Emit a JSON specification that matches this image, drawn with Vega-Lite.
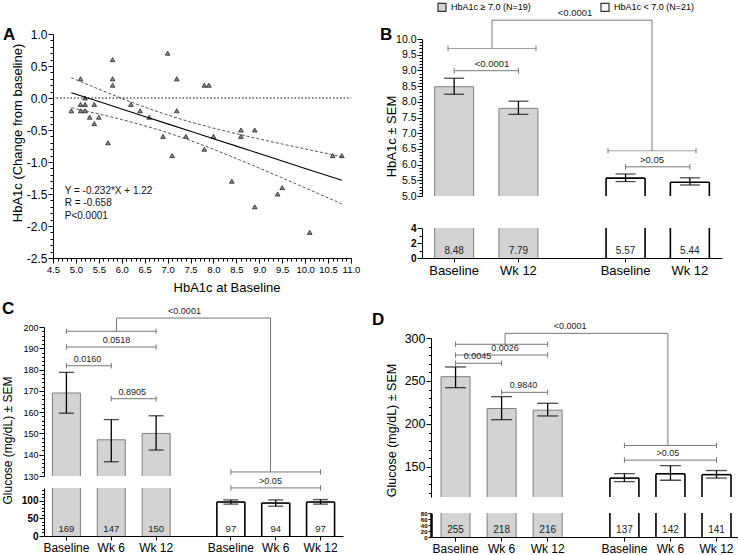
{
"$schema": "https://vega.github.io/schema/vega-lite/v6.json",
"padding": 0,
"columns": 4,
"align": "each",
"bounds": "flush",
"spacing": 0,
"datasets": {
 "a_pts": [{"x":4.9,"y":-0.2},{"x":5.1,"y":0.3},{"x":5.1,"y":-0.1},{"x":5.1,"y":-0.2},{"x":5.2,"y":0.0},{"x":5.2,"y":-0.1},{"x":5.2,"y":-0.2},{"x":5.3,"y":-0.3},{"x":5.4,"y":-0.1},{"x":5.4,"y":-0.4},{"x":5.5,"y":-0.3},{"x":5.7,"y":-0.7},{"x":5.8,"y":0.6},{"x":5.8,"y":0.3},{"x":5.8,"y":0.2},{"x":6.2,"y":-0.1},{"x":6.4,"y":-0.2},{"x":6.6,"y":-0.3},{"x":6.9,"y":-0.6},{"x":7.0,"y":0.7},{"x":7.1,"y":-0.9},{"x":7.2,"y":0.3},{"x":7.2,"y":-0.2},{"x":7.4,"y":-0.6},{"x":7.8,"y":0.2},{"x":7.9,"y":0.2},{"x":7.8,"y":-0.8},{"x":8.0,"y":-0.6},{"x":8.4,"y":-1.3},{"x":8.6,"y":-0.5},{"x":8.6,"y":-0.6},{"x":8.9,"y":-0.5},{"x":8.9,"y":-1.7},{"x":9.4,"y":-1.5},{"x":9.5,"y":-1.4},{"x":10.1,"y":-2.1},{"x":10.6,"y":-0.9},{"x":10.8,"y":-0.9}],
 "a_fit": [{"x":4.9,"fit":0.083,"lo":-0.152,"hi":0.318},{"x":5.5,"fit":-0.056,"lo":-0.25,"hi":0.138},{"x":6.0,"fit":-0.172,"lo":-0.337,"hi":-0.007},{"x":6.5,"fit":-0.288,"lo":-0.434,"hi":-0.142},{"x":7.0,"fit":-0.404,"lo":-0.543,"hi":-0.265},{"x":7.5,"fit":-0.52,"lo":-0.666,"hi":-0.374},{"x":8.0,"fit":-0.636,"lo":-0.801,"hi":-0.471},{"x":8.5,"fit":-0.752,"lo":-0.946,"hi":-0.558},{"x":9.0,"fit":-0.868,"lo":-1.096,"hi":-0.64},{"x":9.5,"fit":-0.984,"lo":-1.249,"hi":-0.719},{"x":10.0,"fit":-1.1,"lo":-1.404,"hi":-0.796},{"x":10.8,"fit":-1.286,"lo":-1.656,"hi":-0.916}],
 "b_bars": [
  {"bar":"hi|Baseline","group":"HbA1c ≥ 7.0  (N=19)","mean":8.48,"err_lo":8.24,"err_hi":8.75},
  {"bar":"hi|Wk 12","group":"HbA1c ≥ 7.0  (N=19)","mean":7.79,"err_lo":7.6,"err_hi":8.02},
  {"bar":"lo|Baseline","group":"HbA1c < 7.0  (N=21)","mean":5.57,"err_lo":5.46,"err_hi":5.7},
  {"bar":"lo|Wk 12","group":"HbA1c < 7.0  (N=21)","mean":5.44,"err_lo":5.35,"err_hi":5.58}],
 "b_pairs": [
  {"from":"hi|Baseline","to":"hi|Wk 12","grp":"hi","y":8.99,"label":"<0.0001"},
  {"from":"lo|Baseline","to":"lo|Wk 12","grp":"lo","y":5.93,"label":">0.05"}],
 "b_groups": [{"grp":"hi","y":9.7,"top":10.6},{"grp":"lo","y":6.44,"top":10.6}],
 "b_conn": [{"from":"hi","to":"lo","y":10.6,"label":"<0.0001"}],
 "c_bars": [
  {"bar":"hi|Baseline","group":"HbA1c ≥ 7.0  (N=19)","mean":169,"err_lo":159.5,"err_hi":178.7},
  {"bar":"hi|Wk 6","group":"HbA1c ≥ 7.0  (N=19)","mean":147,"err_lo":136.7,"err_hi":156.5},
  {"bar":"hi|Wk 12","group":"HbA1c ≥ 7.0  (N=19)","mean":150,"err_lo":142.2,"err_hi":158.3},
  {"bar":"lo|Baseline","group":"HbA1c < 7.0  (N=21)","mean":97,"err_lo":91,"err_hi":103},
  {"bar":"lo|Wk 6","group":"HbA1c < 7.0  (N=21)","mean":94,"err_lo":85,"err_hi":103},
  {"bar":"lo|Wk 12","group":"HbA1c < 7.0  (N=21)","mean":97,"err_lo":91,"err_hi":104}],
 "c_pairs": [
  {"from":"hi|Baseline","to":"hi|Wk 12","grp":"hi","y":198,"label":""},
  {"from":"hi|Baseline","to":"hi|Wk 12","grp":"hi","y":190.6,"label":"0.0518"},
  {"from":"hi|Baseline","to":"hi|Wk 6","grp":"hi","y":181.8,"label":"0.0160"},
  {"from":"hi|Wk 6","to":"hi|Wk 12","grp":"hi","y":166.3,"label":"0.8905"},
  {"from":"lo|Baseline","to":"lo|Wk 12","grp":"lo","y":131.9,"label":""},
  {"from":"lo|Baseline","to":"lo|Wk 12","grp":"lo","y":124.4,"label":">0.05"}],
 "c_groups": [{"grp":"hi","y":198,"top":204.2},{"grp":"lo","y":131.9,"top":204.2}],
 "c_conn": [{"from":"hi","to":"lo","y":204.2,"label":"<0.0001"}],
 "d_bars": [
  {"bar":"hi|Baseline","group":"HbA1c ≥ 7.0  (N=19)","mean":255,"err_lo":242.2,"err_hi":266.3},
  {"bar":"hi|Wk 6","group":"HbA1c ≥ 7.0  (N=19)","mean":218,"err_lo":205,"err_hi":231.8},
  {"bar":"hi|Wk 12","group":"HbA1c ≥ 7.0  (N=19)","mean":216,"err_lo":209.3,"err_hi":224},
  {"bar":"lo|Baseline","group":"HbA1c < 7.0  (N=21)","mean":137,"err_lo":132.9,"err_hi":142.2},
  {"bar":"lo|Wk 6","group":"HbA1c < 7.0  (N=21)","mean":142,"err_lo":134.5,"err_hi":151.5},
  {"bar":"lo|Wk 12","group":"HbA1c < 7.0  (N=21)","mean":141,"err_lo":137,"err_hi":145.8}],
 "d_pairs": [
  {"from":"hi|Baseline","to":"hi|Wk 12","grp":"hi","y":292.7,"label":""},
  {"from":"hi|Baseline","to":"hi|Wk 12","grp":"hi","y":280.2,"label":"0.0026"},
  {"from":"hi|Baseline","to":"hi|Wk 6","grp":"hi","y":270.6,"label":"0.0045"},
  {"from":"hi|Wk 6","to":"hi|Wk 12","grp":"hi","y":236.8,"label":"0.9840"},
  {"from":"lo|Baseline","to":"lo|Wk 12","grp":"lo","y":175,"label":""},
  {"from":"lo|Baseline","to":"lo|Wk 12","grp":"lo","y":157.9,"label":">0.05"}],
 "d_groups": [{"grp":"hi","y":292.7,"top":305.4},{"grp":"lo","y":175,"top":305.4}],
 "d_conn": [{"from":"hi","to":"lo","y":305.4,"label":"<0.0001"}]
},
"concat": [
 {"width": 44, "height": 34, "data": {"values": []}, "mark": "point",
  "title": {"text": "A", "orient": "bottom", "anchor": "start", "frame": "group", "offset": 6, "dx": 3, "baseline": "alphabetic", "align": "left", "fontSize": 17, "fontWeight": "bold", "color": "#000"}},
 {"width": 1, "height": 1, "data": {"values": []}, "mark": "point"},
 {"width": 71, "height": 1, "data": {"values": []}, "mark": "point",
  "title": {"text": "B", "orient": "bottom", "anchor": "start", "frame": "group", "offset": 39, "dx": 29, "baseline": "alphabetic", "align": "left", "fontSize": 17, "fontWeight": "bold", "color": "#000"}},
 {"width": 1, "height": 1, "data": {"values": []}, "mark": "point"},

 {"width": 1, "height": 1, "data": {"values": []}, "mark": "point"},
 {"width": 307, "height": 224,
  "resolve": {"axis": {"x": "independent", "y": "independent"}},
  "layer": [
   {"data": {"name": "a_pts"}, "mark": {"type": "point", "shape": "triangle-up", "size": 22, "filled": true, "fill": "#8a8a8a", "stroke": "#111", "strokeWidth": 0.7, "opacity": 1},
    "encoding": {
     "x": {"field": "x", "type": "quantitative", "scale": {"domain": [4.5, 11], "range": [9, 307], "nice": false, "zero": false},
      "axis": {"values": [4.5,4.6,4.7,4.8,4.9,5,5.1,5.2,5.3,5.4,5.5,5.6,5.7,5.8,5.9,6,6.1,6.2,6.3,6.4,6.5,6.6,6.7,6.8,6.9,7,7.1,7.2,7.3,7.4,7.5,7.6,7.7,7.8,7.9,8,8.1,8.2,8.3,8.4,8.5,8.6,8.7,8.8,8.9,9,9.1,9.2,9.3,9.4,9.5,9.6,9.7,9.8,9.9,10,10.1,10.2,10.3,10.4,10.5,10.6,10.7,10.8,10.9,11],
       "labelExpr": "abs(datum.value*2-round(datum.value*2))<0.01 ? format(datum.value,'.1f') : ''",
       "tickSize": {"condition": {"test": "abs(datum.value*2-round(datum.value*2))<0.01", "value": 5}, "value": 3},
       "labelFontSize": 9.5, "labelOverlap": false, "labelFlush": false, "labelPadding": 1,
       "title": "HbA1c at Baseline", "titleFontSize": 13, "titleX": 182.5, "titleY": 29, "titleAlign": "center", "titleBaseline": "middle"}},
     "y": {"field": "y", "type": "quantitative", "scale": {"domain": [-2.5, 1], "nice": false, "zero": false},
      "axis": {"orient": "left", "values": [-2.5,-2.4,-2.3,-2.2,-2.1,-2,-1.9,-1.8,-1.7,-1.6,-1.5,-1.4,-1.3,-1.2,-1.1,-1,-0.9,-0.8,-0.7,-0.6,-0.5,-0.4,-0.3,-0.2,-0.1,0,0.1,0.2,0.3,0.4,0.5,0.6,0.7,0.8,0.9,1], "offset": -9,
       "labelExpr": "abs(datum.value*2-round(datum.value*2))<0.01 ? replace(format(datum.value,'.1f'),'\u2212','-') : ''",
       "tickSize": {"condition": {"test": "abs(datum.value*2-round(datum.value*2))<0.01", "value": 5}, "value": 3},
       "labelFontSize": 12, "labelOverlap": false, "labelFlush": false, "labelPadding": 1,
       "title": "HbA1c (Change from baseline)", "titleFontSize": 13, "titleX": -35.5, "titleY": 98.5, "titleAlign": "center", "titleBaseline": "middle", "titleAngle": -90}}
    }},
   {"data": {"name": "a_fit"}, "mark": {"type": "line", "color": "#555", "strokeWidth": 1, "strokeDash": [3, 2], "interpolate": "monotone"},
    "encoding": {"x": {"field": "x", "type": "quantitative", "axis": null}, "y": {"field": "hi", "type": "quantitative", "axis": null}}},
   {"data": {"name": "a_fit"}, "mark": {"type": "line", "color": "#555", "strokeWidth": 1, "strokeDash": [3, 2], "interpolate": "monotone"},
    "encoding": {"x": {"field": "x", "type": "quantitative", "axis": null}, "y": {"field": "lo", "type": "quantitative", "axis": null}}},
   {"data": {"name": "a_fit"}, "mark": {"type": "line", "color": "#000", "strokeWidth": 1.1},
    "encoding": {"x": {"field": "x", "type": "quantitative", "axis": null}, "y": {"field": "fit", "type": "quantitative", "axis": null}}},
   {"data": {"values": [{}]}, "mark": {"type": "rule", "color": "#000", "strokeWidth": 1, "strokeDash": [1.5, 2]},
    "encoding": {"x": {"datum": 4.5, "axis": null}, "x2": {"datum": 11}, "y": {"datum": 0, "axis": null}}},
   {"data": {"values": [{}]}, "mark": {"type": "text", "align": "left", "baseline": "top", "fontSize": 10, "lineHeight": 12.5, "color": "#111"},
    "encoding": {"x": {"datum": 4.756, "axis": null}, "y": {"datum": -1.37, "axis": null}, "text": {"value": ["Y = -0.232*X + 1.22", "R =  -0.658", " P<0.0001"]}}}
  ]},
 {"width": 1, "height": 1, "data": {"values": []}, "mark": "point"},
 {"width": 300, "height": 224,
  "resolve": {"scale": {"x": "independent", "y": "independent"}},
  "layer": [
   {"data": {"name": "b_bars"}, "mark": {"type": "bar", "width": 39},
    "encoding": {
     "x": {"field": "bar", "type": "nominal", "scale": {"type": "band", "domain": ["hi|Baseline","s1","s2","hi|Wk 12","s3","s4","s5","s6","lo|Baseline","s7","s8","lo|Wk 12"], "paddingInner": 0, "paddingOuter": 1.5}, "axis": null},
     "y": {"field": "mean", "type": "quantitative", "scale": {"domain": [5, 10], "range": [162, 5], "nice": false, "zero": false},
      "axis": {"orient": "left", "values": [5,5.1,5.2,5.3,5.4,5.5,5.6,5.7,5.8,5.9,6,6.1,6.2,6.3,6.4,6.5,6.6,6.7,6.8,6.9,7,7.1,7.2,7.3,7.4,7.5,7.6,7.7,7.8,7.9,8,8.1,8.2,8.3,8.4,8.5,8.6,8.7,8.8,8.9,9,9.1,9.2,9.3,9.4,9.5,9.6,9.7,9.8,9.9,10],
       "labelExpr": "abs(datum.value*2-round(datum.value*2))<0.01 ? format(datum.value,'.1f') : ''",
       "tickSize": {"condition": {"test": "abs(datum.value*2-round(datum.value*2))<0.01", "value": 5}, "value": 3},
       "labelFontSize": 10.5, "labelOverlap": false, "labelFlush": false, "labelPadding": 1,
       "title": "HbA1c ± SEM", "titleFontSize": 13, "titleX": -30.5, "titleY": 102, "titleAlign": "center", "titleBaseline": "middle", "titleAngle": -90}},
     "y2": {"datum": 5},
     "fill": {"field": "group", "type": "nominal", "scale": {"domain": ["HbA1c ≥ 7.0  (N=19)", "HbA1c < 7.0  (N=21)"], "range": ["#d3d3d3", "#ffffff"]},
      "legend": {"orient": "none", "legendX": 437, "legendY": 2, "direction": "horizontal", "title": null, "symbolType": "square", "symbolSize": 64, "symbolStrokeColor": "#333", "symbolStrokeWidth": 1.2, "labelFontSize": 9, "labelOffset": 4, "columnPadding": 64, "labelColor": "#000"}}
    }},
   {"data": {"name": "b_bars"}, "mark": {"type": "rule", "xOffset": -19.5},
    "encoding": {"x": {"field": "bar", "type": "nominal", "scale": {"type": "band", "domain": ["hi|Baseline","s1","s2","hi|Wk 12","s3","s4","s5","s6","lo|Baseline","s7","s8","lo|Wk 12"], "paddingInner": 0, "paddingOuter": 1.5}, "axis": null},
     "y": {"field": "mean", "type": "quantitative", "scale": {"domain": [5, 10], "range": [162, 5], "nice": false, "zero": false}, "axis": null},
     "y2": {"datum": 5},
     "color": {"condition": {"test": "indexof(datum.bar,'lo|') == 0", "value": "#000"}, "value": "#7f7f7f"},
     "strokeWidth": {"condition": {"test": "indexof(datum.bar,'lo|') == 0", "value": 1.6}, "value": 1}}},
   {"data": {"name": "b_bars"}, "mark": {"type": "rule", "xOffset": 19.5},
    "encoding": {"x": {"field": "bar", "type": "nominal", "scale": {"type": "band", "domain": ["hi|Baseline","s1","s2","hi|Wk 12","s3","s4","s5","s6","lo|Baseline","s7","s8","lo|Wk 12"], "paddingInner": 0, "paddingOuter": 1.5}, "axis": null},
     "y": {"field": "mean", "type": "quantitative", "scale": {"domain": [5, 10], "range": [162, 5], "nice": false, "zero": false}, "axis": null},
     "y2": {"datum": 5},
     "color": {"condition": {"test": "indexof(datum.bar,'lo|') == 0", "value": "#000"}, "value": "#7f7f7f"},
     "strokeWidth": {"condition": {"test": "indexof(datum.bar,'lo|') == 0", "value": 1.6}, "value": 1}}},
   {"data": {"name": "b_bars"}, "mark": {"type": "rule", "xOffset": -19.5, "x2Offset": 19.5},
    "encoding": {"x": {"field": "bar", "type": "nominal", "scale": {"type": "band", "domain": ["hi|Baseline","s1","s2","hi|Wk 12","s3","s4","s5","s6","lo|Baseline","s7","s8","lo|Wk 12"], "paddingInner": 0, "paddingOuter": 1.5}, "axis": null},
     "x2": {"field": "bar"},
     "y": {"field": "mean", "type": "quantitative", "scale": {"domain": [5, 10], "range": [162, 5], "nice": false, "zero": false}, "axis": null},
     "color": {"condition": {"test": "indexof(datum.bar,'lo|') == 0", "value": "#000"}, "value": "#7f7f7f"},
     "strokeWidth": {"condition": {"test": "indexof(datum.bar,'lo|') == 0", "value": 1.6}, "value": 1}}},
   {"data": {"name": "b_bars"}, "mark": {"type": "rule", "color": "#000", "strokeWidth": 1.3},
    "encoding": {"x": {"field": "bar", "type": "nominal", "scale": {"type": "band", "domain": ["hi|Baseline","s1","s2","hi|Wk 12","s3","s4","s5","s6","lo|Baseline","s7","s8","lo|Wk 12"], "paddingInner": 0, "paddingOuter": 1.5}, "axis": null},
     "y": {"field": "err_lo", "type": "quantitative", "scale": {"domain": [5, 10], "range": [162, 5], "nice": false, "zero": false}, "axis": null}, "y2": {"field": "err_hi"}}},
   {"data": {"name": "b_bars"}, "mark": {"type": "tick", "color": "#000", "size": 20, "thickness": 1.3},
    "encoding": {"x": {"field": "bar", "type": "nominal", "scale": {"type": "band", "domain": ["hi|Baseline","s1","s2","hi|Wk 12","s3","s4","s5","s6","lo|Baseline","s7","s8","lo|Wk 12"], "paddingInner": 0, "paddingOuter": 1.5}, "axis": null},
     "y": {"field": "err_lo", "type": "quantitative", "scale": {"domain": [5, 10], "range": [162, 5], "nice": false, "zero": false}, "axis": null}}},
   {"data": {"name": "b_bars"}, "mark": {"type": "tick", "color": "#000", "size": 20, "thickness": 1.3},
    "encoding": {"x": {"field": "bar", "type": "nominal", "scale": {"type": "band", "domain": ["hi|Baseline","s1","s2","hi|Wk 12","s3","s4","s5","s6","lo|Baseline","s7","s8","lo|Wk 12"], "paddingInner": 0, "paddingOuter": 1.5}, "axis": null},
     "y": {"field": "err_hi", "type": "quantitative", "scale": {"domain": [5, 10], "range": [162, 5], "nice": false, "zero": false}, "axis": null}}},
   {"data": {"name": "b_bars"}, "mark": {"type": "bar", "width": 39},
    "encoding": {
     "x": {"field": "bar", "type": "nominal", "scale": {"type": "band", "domain": ["hi|Baseline","s1","s2","hi|Wk 12","s3","s4","s5","s6","lo|Baseline","s7","s8","lo|Wk 12"], "paddingInner": 0, "paddingOuter": 1.5},
      "axis": {"values": ["hi|Baseline","hi|Wk 12","lo|Baseline","lo|Wk 12"], "labelExpr": "split(datum.label,'|')[1]", "labelAngle": 0, "labelFontSize": 13, "labelPadding": 2, "tickSize": 4, "title": null, "labelOverlap": false, "labelBound": false}},
     "y": {"field": "mean", "type": "quantitative", "scale": {"domain": [0, 4], "range": [224, 194], "nice": false, "zero": false, "clamp": true},
      "axis": {"orient": "left", "values": [0,1,2,3,4], "labelExpr": "datum.value % 2 == 0 ? datum.label : ''",
       "tickSize": {"condition": {"test": "datum.value % 2 == 0", "value": 5}, "value": 3},
       "labelFontSize": 10, "labelFontWeight": "bold", "labelOverlap": false, "labelFlush": false, "labelPadding": 1, "title": null}},
     "y2": {"datum": 0},
     "fill": {"field": "group", "type": "nominal", "scale": {"domain": ["HbA1c ≥ 7.0  (N=19)", "HbA1c < 7.0  (N=21)"], "range": ["#d3d3d3", "#ffffff"]}, "legend": null}
    }},
   {"data": {"name": "b_bars"}, "mark": {"type": "rule", "xOffset": -19.5},
    "encoding": {"x": {"field": "bar", "type": "nominal", "scale": {"type": "band", "domain": ["hi|Baseline","s1","s2","hi|Wk 12","s3","s4","s5","s6","lo|Baseline","s7","s8","lo|Wk 12"], "paddingInner": 0, "paddingOuter": 1.5}, "axis": null},
     "y": {"field": "mean", "type": "quantitative", "scale": {"domain": [0, 4], "range": [224, 194], "nice": false, "zero": false, "clamp": true}, "axis": null},
     "y2": {"datum": 0},
     "color": {"condition": {"test": "indexof(datum.bar,'lo|') == 0", "value": "#000"}, "value": "#7f7f7f"},
     "strokeWidth": {"condition": {"test": "indexof(datum.bar,'lo|') == 0", "value": 1.6}, "value": 1}}},
   {"data": {"name": "b_bars"}, "mark": {"type": "rule", "xOffset": 19.5},
    "encoding": {"x": {"field": "bar", "type": "nominal", "scale": {"type": "band", "domain": ["hi|Baseline","s1","s2","hi|Wk 12","s3","s4","s5","s6","lo|Baseline","s7","s8","lo|Wk 12"], "paddingInner": 0, "paddingOuter": 1.5}, "axis": null},
     "y": {"field": "mean", "type": "quantitative", "scale": {"domain": [0, 4], "range": [224, 194], "nice": false, "zero": false, "clamp": true}, "axis": null},
     "y2": {"datum": 0},
     "color": {"condition": {"test": "indexof(datum.bar,'lo|') == 0", "value": "#000"}, "value": "#7f7f7f"},
     "strokeWidth": {"condition": {"test": "indexof(datum.bar,'lo|') == 0", "value": 1.6}, "value": 1}}},
   {"data": {"name": "b_bars"}, "mark": {"type": "text", "align": "center", "dy": -2, "baseline": "bottom", "fontSize": 10, "color": "#222"},
    "encoding": {"x": {"field": "bar", "type": "nominal", "bandPosition": 0.5, "scale": {"type": "band", "domain": ["hi|Baseline","s1","s2","hi|Wk 12","s3","s4","s5","s6","lo|Baseline","s7","s8","lo|Wk 12"], "paddingInner": 0, "paddingOuter": 1.5}, "axis": null},
     "y": {"datum": 0, "type": "quantitative", "scale": {"domain": [0, 4], "range": [224, 194], "nice": false, "zero": false, "clamp": true}, "axis": null},
     "text": {"field": "mean", "format": ".2f"}}},
   {"data": {"name": "b_pairs"}, "mark": {"type": "rule", "color": "#777", "strokeWidth": 1},
    "encoding": {"x": {"field": "from", "type": "nominal", "scale": {"type": "band", "domain": ["hi|Baseline","s1","s2","hi|Wk 12","s3","s4","s5","s6","lo|Baseline","s7","s8","lo|Wk 12"], "paddingInner": 0, "paddingOuter": 1.5}, "axis": null},
     "x2": {"field": "to"}, "y": {"field": "y", "type": "quantitative", "scale": {"domain": [5, 10], "range": [162, 5], "nice": false, "zero": false}, "axis": null}}},
   {"data": {"name": "b_pairs"}, "mark": {"type": "point", "shape": "M0,-1L0,1", "size": 30, "filled": false, "color": "#777", "strokeWidth": 1, "opacity": 1},
    "encoding": {"x": {"field": "from", "type": "nominal", "bandPosition": 0.5, "scale": {"type": "band", "domain": ["hi|Baseline","s1","s2","hi|Wk 12","s3","s4","s5","s6","lo|Baseline","s7","s8","lo|Wk 12"], "paddingInner": 0, "paddingOuter": 1.5}, "axis": null},
     "y": {"field": "y", "type": "quantitative", "scale": {"domain": [5, 10], "range": [162, 5], "nice": false, "zero": false}, "axis": null}}},
   {"data": {"name": "b_pairs"}, "mark": {"type": "point", "shape": "M0,-1L0,1", "size": 30, "filled": false, "color": "#777", "strokeWidth": 1, "opacity": 1},
    "encoding": {"x": {"field": "to", "type": "nominal", "bandPosition": 0.5, "scale": {"type": "band", "domain": ["hi|Baseline","s1","s2","hi|Wk 12","s3","s4","s5","s6","lo|Baseline","s7","s8","lo|Wk 12"], "paddingInner": 0, "paddingOuter": 1.5}, "axis": null},
     "y": {"field": "y", "type": "quantitative", "scale": {"domain": [5, 10], "range": [162, 5], "nice": false, "zero": false}, "axis": null}}},
   {"data": {"name": "b_pairs"}, "mark": {"type": "text", "align": "center", "dy": -2, "baseline": "bottom", "fontSize": 9.5, "color": "#222"},
    "encoding": {"x": {"field": "grp", "type": "nominal", "bandPosition": 0.5, "scale": {"type": "band", "domain": ["hi","lo"], "paddingInner": 0.45, "paddingOuter": 0.1625}, "axis": null},
     "y": {"field": "y", "type": "quantitative", "scale": {"domain": [5, 10], "range": [162, 5], "nice": false, "zero": false}, "axis": null}, "text": {"field": "label"}}},
   {"data": {"name": "b_groups"}, "mark": {"type": "tick", "color": "#777", "size": 88, "thickness": 1},
    "encoding": {"x": {"field": "grp", "type": "nominal", "scale": {"type": "band", "domain": ["hi","lo"], "paddingInner": 0.45, "paddingOuter": 0.1625}, "axis": null},
     "y": {"field": "y", "type": "quantitative", "scale": {"domain": [5, 10], "range": [162, 5], "nice": false, "zero": false}, "axis": null}}},
   {"data": {"name": "b_groups"}, "mark": {"type": "point", "shape": "M0,-1L0,1", "size": 30, "filled": false, "color": "#777", "strokeWidth": 1, "opacity": 1},
    "encoding": {"x": {"field": "grp", "type": "nominal", "bandPosition": 0, "scale": {"type": "band", "domain": ["hi","lo"], "paddingInner": 0.45, "paddingOuter": 0.1625}, "axis": null},
     "y": {"field": "y", "type": "quantitative", "scale": {"domain": [5, 10], "range": [162, 5], "nice": false, "zero": false}, "axis": null}}},
   {"data": {"name": "b_groups"}, "mark": {"type": "point", "shape": "M0,-1L0,1", "size": 30, "filled": false, "color": "#777", "strokeWidth": 1, "opacity": 1},
    "encoding": {"x": {"field": "grp", "type": "nominal", "bandPosition": 1, "scale": {"type": "band", "domain": ["hi","lo"], "paddingInner": 0.45, "paddingOuter": 0.1625}, "axis": null},
     "y": {"field": "y", "type": "quantitative", "scale": {"domain": [5, 10], "range": [162, 5], "nice": false, "zero": false}, "axis": null}}},
   {"data": {"name": "b_groups"}, "mark": {"type": "rule", "color": "#777", "strokeWidth": 1},
    "encoding": {"x": {"field": "grp", "type": "nominal", "scale": {"type": "band", "domain": ["hi","lo"], "paddingInner": 0.45, "paddingOuter": 0.1625}, "axis": null},
     "y": {"field": "y", "type": "quantitative", "scale": {"domain": [5, 10], "range": [162, 5], "nice": false, "zero": false}, "axis": null}, "y2": {"field": "top"}}},
   {"data": {"name": "b_conn"}, "mark": {"type": "rule", "color": "#777", "strokeWidth": 1},
    "encoding": {"x": {"field": "from", "type": "nominal", "scale": {"type": "band", "domain": ["hi","lo"], "paddingInner": 0.45, "paddingOuter": 0.1625}, "axis": null},
     "x2": {"field": "to"}, "y": {"field": "y", "type": "quantitative", "scale": {"domain": [5, 10], "range": [162, 5], "nice": false, "zero": false}, "axis": null}}},
   {"data": {"name": "b_conn"}, "mark": {"type": "text", "align": "center", "dx": 83, "dy": -2, "baseline": "bottom", "fontSize": 9.5, "color": "#222"},
    "encoding": {"x": {"field": "from", "type": "nominal", "bandPosition": 0.5, "scale": {"type": "band", "domain": ["hi","lo"], "paddingInner": 0.45, "paddingOuter": 0.1625}, "axis": null},
     "y": {"field": "y", "type": "quantitative", "scale": {"domain": [5, 10], "range": [162, 5], "nice": false, "zero": false}, "axis": null}, "text": {"field": "label"}}}
  ]},

 {"width": 1, "height": 69, "data": {"values": []}, "mark": "point",
  "title": {"text": "C", "orient": "bottom", "anchor": "start", "frame": "group", "offset": -13, "dx": 2, "baseline": "alphabetic", "align": "left", "fontSize": 17, "fontWeight": "bold", "color": "#000"}},
 {"width": 1, "height": 1, "data": {"values": []}, "mark": "point"},
 {"width": 1, "height": 1, "data": {"values": []}, "mark": "point",
  "title": {"text": "D", "orient": "bottom", "anchor": "start", "frame": "group", "offset": 66, "dx": 21, "baseline": "alphabetic", "align": "left", "fontSize": 17, "fontWeight": "bold", "color": "#000"}},
 {"width": 1, "height": 1, "data": {"values": []}, "mark": "point"},

 {"width": 1, "height": 1, "data": {"values": []}, "mark": "point"},
 {"width": 299, "height": 209,
  "resolve": {"scale": {"x": "independent", "y": "independent"}},
  "layer": [
   {"data": {"name": "c_bars"}, "transform": [{"filter": "datum.mean > 130"}], "mark": {"type": "bar", "width": 28},
    "encoding": {
     "x": {"field": "bar", "type": "nominal", "scale": {"type": "band", "domain": ["hi|Baseline","s1","s2","hi|Wk 6","s3","s4","hi|Wk 12","s5","s6","s7","s8","lo|Baseline","s9","s10","lo|Wk 6","s11","s12","lo|Wk 12"], "paddingInner": 0, "paddingOuter": 1.68}, "axis": null},
     "y": {"field": "mean", "type": "quantitative", "scale": {"domain": [130, 200], "range": [149, 0], "nice": false, "zero": false},
      "axis": {"orient": "left", "values": [130,132,134,136,138,140,142,144,146,148,150,152,154,156,158,160,162,164,166,168,170,172,174,176,178,180,182,184,186,188,190,192,194,196,198,200],
       "labelExpr": "datum.value % 10 == 0 ? datum.label : ''",
       "tickSize": {"condition": {"test": "datum.value % 10 == 0", "value": 5}, "value": 2.5},
       "labelFontSize": 9, "labelOverlap": false, "labelFlush": false, "labelPadding": 1,
       "title": "Glucose (mg/dL) ± SEM", "titleFontSize": 12, "titleX": -36.5, "titleY": 113, "titleAlign": "center", "titleBaseline": "middle", "titleAngle": -90}},
     "y2": {"datum": 130},
     "fill": {"field": "group", "type": "nominal", "scale": {"domain": ["HbA1c ≥ 7.0  (N=19)", "HbA1c < 7.0  (N=21)"], "range": ["#d3d3d3", "#ffffff"]}, "legend": null}
    }},
   {"data": {"name": "c_bars"}, "transform": [{"filter": "datum.mean > 130"}], "mark": {"type": "rule", "xOffset": -14},
    "encoding": {"x": {"field": "bar", "type": "nominal", "scale": {"type": "band", "domain": ["hi|Baseline","s1","s2","hi|Wk 6","s3","s4","hi|Wk 12","s5","s6","s7","s8","lo|Baseline","s9","s10","lo|Wk 6","s11","s12","lo|Wk 12"], "paddingInner": 0, "paddingOuter": 1.68}, "axis": null},
     "y": {"field": "mean", "type": "quantitative", "scale": {"domain": [130, 200], "range": [149, 0], "nice": false, "zero": false}, "axis": null},
     "y2": {"datum": 130},
     "color": {"condition": {"test": "indexof(datum.bar,'lo|') == 0", "value": "#000"}, "value": "#7f7f7f"},
     "strokeWidth": {"condition": {"test": "indexof(datum.bar,'lo|') == 0", "value": 1.6}, "value": 1}}},
   {"data": {"name": "c_bars"}, "transform": [{"filter": "datum.mean > 130"}], "mark": {"type": "rule", "xOffset": 14},
    "encoding": {"x": {"field": "bar", "type": "nominal", "scale": {"type": "band", "domain": ["hi|Baseline","s1","s2","hi|Wk 6","s3","s4","hi|Wk 12","s5","s6","s7","s8","lo|Baseline","s9","s10","lo|Wk 6","s11","s12","lo|Wk 12"], "paddingInner": 0, "paddingOuter": 1.68}, "axis": null},
     "y": {"field": "mean", "type": "quantitative", "scale": {"domain": [130, 200], "range": [149, 0], "nice": false, "zero": false}, "axis": null},
     "y2": {"datum": 130},
     "color": {"condition": {"test": "indexof(datum.bar,'lo|') == 0", "value": "#000"}, "value": "#7f7f7f"},
     "strokeWidth": {"condition": {"test": "indexof(datum.bar,'lo|') == 0", "value": 1.6}, "value": 1}}},
   {"data": {"name": "c_bars"}, "transform": [{"filter": "datum.mean > 130"}], "mark": {"type": "rule", "xOffset": -14, "x2Offset": 14},
    "encoding": {"x": {"field": "bar", "type": "nominal", "scale": {"type": "band", "domain": ["hi|Baseline","s1","s2","hi|Wk 6","s3","s4","hi|Wk 12","s5","s6","s7","s8","lo|Baseline","s9","s10","lo|Wk 6","s11","s12","lo|Wk 12"], "paddingInner": 0, "paddingOuter": 1.68}, "axis": null},
     "x2": {"field": "bar"},
     "y": {"field": "mean", "type": "quantitative", "scale": {"domain": [130, 200], "range": [149, 0], "nice": false, "zero": false}, "axis": null},
     "color": {"condition": {"test": "indexof(datum.bar,'lo|') == 0", "value": "#000"}, "value": "#7f7f7f"},
     "strokeWidth": {"condition": {"test": "indexof(datum.bar,'lo|') == 0", "value": 1.6}, "value": 1}}},
   {"data": {"name": "c_bars"}, "transform": [{"filter": "datum.mean > 130"}], "mark": {"type": "rule", "color": "#000", "strokeWidth": 1.3},
    "encoding": {"x": {"field": "bar", "type": "nominal", "scale": {"type": "band", "domain": ["hi|Baseline","s1","s2","hi|Wk 6","s3","s4","hi|Wk 12","s5","s6","s7","s8","lo|Baseline","s9","s10","lo|Wk 6","s11","s12","lo|Wk 12"], "paddingInner": 0, "paddingOuter": 1.68}, "axis": null},
     "y": {"field": "err_lo", "type": "quantitative", "scale": {"domain": [130, 200], "range": [149, 0], "nice": false, "zero": false}, "axis": null}, "y2": {"field": "err_hi"}}},
   {"data": {"name": "c_bars"}, "transform": [{"filter": "datum.mean > 130"}], "mark": {"type": "tick", "color": "#000", "size": 15, "thickness": 1.3},
    "encoding": {"x": {"field": "bar", "type": "nominal", "scale": {"type": "band", "domain": ["hi|Baseline","s1","s2","hi|Wk 6","s3","s4","hi|Wk 12","s5","s6","s7","s8","lo|Baseline","s9","s10","lo|Wk 6","s11","s12","lo|Wk 12"], "paddingInner": 0, "paddingOuter": 1.68}, "axis": null},
     "y": {"field": "err_lo", "type": "quantitative", "scale": {"domain": [130, 200], "range": [149, 0], "nice": false, "zero": false}, "axis": null}}},
   {"data": {"name": "c_bars"}, "transform": [{"filter": "datum.mean > 130"}], "mark": {"type": "tick", "color": "#000", "size": 15, "thickness": 1.3},
    "encoding": {"x": {"field": "bar", "type": "nominal", "scale": {"type": "band", "domain": ["hi|Baseline","s1","s2","hi|Wk 6","s3","s4","hi|Wk 12","s5","s6","s7","s8","lo|Baseline","s9","s10","lo|Wk 6","s11","s12","lo|Wk 12"], "paddingInner": 0, "paddingOuter": 1.68}, "axis": null},
     "y": {"field": "err_hi", "type": "quantitative", "scale": {"domain": [130, 200], "range": [149, 0], "nice": false, "zero": false}, "axis": null}}},
   {"data": {"name": "c_bars"}, "mark": {"type": "bar", "width": 28},
    "encoding": {
     "x": {"field": "bar", "type": "nominal", "scale": {"type": "band", "domain": ["hi|Baseline","s1","s2","hi|Wk 6","s3","s4","hi|Wk 12","s5","s6","s7","s8","lo|Baseline","s9","s10","lo|Wk 6","s11","s12","lo|Wk 12"], "paddingInner": 0, "paddingOuter": 1.68},
      "axis": {"values": ["hi|Baseline","hi|Wk 6","hi|Wk 12","lo|Baseline","lo|Wk 6","lo|Wk 12"], "labelExpr": "split(datum.label,'|')[1]", "labelAngle": 0, "labelFontSize": 12, "labelPadding": 2, "tickSize": 4, "title": null, "labelOverlap": false, "labelBound": false}},
     "y": {"field": "mean", "type": "quantitative", "scale": {"domain": [0, 137], "range": [209, 161], "nice": false, "zero": false, "clamp": true},
      "axis": {"orient": "left", "values": [0,10,20,30,40,50,60,70,80,90,100,110,120,130], "labelExpr": "datum.value % 50 == 0 ? datum.label : ''",
       "tickSize": {"condition": {"test": "datum.value % 50 == 0", "value": 5}, "value": 2.5},
       "labelFontSize": 10, "labelFontWeight": "bold", "labelOverlap": false, "labelFlush": false, "labelPadding": 1, "title": null}},
     "y2": {"datum": 0},
     "fill": {"field": "group", "type": "nominal", "scale": {"domain": ["HbA1c ≥ 7.0  (N=19)", "HbA1c < 7.0  (N=21)"], "range": ["#d3d3d3", "#ffffff"]}, "legend": null}
    }},
   {"data": {"name": "c_bars"}, "mark": {"type": "rule", "xOffset": -14},
    "encoding": {"x": {"field": "bar", "type": "nominal", "scale": {"type": "band", "domain": ["hi|Baseline","s1","s2","hi|Wk 6","s3","s4","hi|Wk 12","s5","s6","s7","s8","lo|Baseline","s9","s10","lo|Wk 6","s11","s12","lo|Wk 12"], "paddingInner": 0, "paddingOuter": 1.68}, "axis": null},
     "y": {"field": "mean", "type": "quantitative", "scale": {"domain": [0, 137], "range": [209, 161], "nice": false, "zero": false, "clamp": true}, "axis": null},
     "y2": {"datum": 0},
     "color": {"condition": {"test": "indexof(datum.bar,'lo|') == 0", "value": "#000"}, "value": "#7f7f7f"},
     "strokeWidth": {"condition": {"test": "indexof(datum.bar,'lo|') == 0", "value": 1.6}, "value": 1}}},
   {"data": {"name": "c_bars"}, "mark": {"type": "rule", "xOffset": 14},
    "encoding": {"x": {"field": "bar", "type": "nominal", "scale": {"type": "band", "domain": ["hi|Baseline","s1","s2","hi|Wk 6","s3","s4","hi|Wk 12","s5","s6","s7","s8","lo|Baseline","s9","s10","lo|Wk 6","s11","s12","lo|Wk 12"], "paddingInner": 0, "paddingOuter": 1.68}, "axis": null},
     "y": {"field": "mean", "type": "quantitative", "scale": {"domain": [0, 137], "range": [209, 161], "nice": false, "zero": false, "clamp": true}, "axis": null},
     "y2": {"datum": 0},
     "color": {"condition": {"test": "indexof(datum.bar,'lo|') == 0", "value": "#000"}, "value": "#7f7f7f"},
     "strokeWidth": {"condition": {"test": "indexof(datum.bar,'lo|') == 0", "value": 1.6}, "value": 1}}},
   {"data": {"name": "c_bars"}, "transform": [{"filter": "datum.mean < 137"}], "mark": {"type": "rule", "xOffset": -14, "x2Offset": 14},
    "encoding": {"x": {"field": "bar", "type": "nominal", "scale": {"type": "band", "domain": ["hi|Baseline","s1","s2","hi|Wk 6","s3","s4","hi|Wk 12","s5","s6","s7","s8","lo|Baseline","s9","s10","lo|Wk 6","s11","s12","lo|Wk 12"], "paddingInner": 0, "paddingOuter": 1.68}, "axis": null},
     "x2": {"field": "bar"},
     "y": {"field": "mean", "type": "quantitative", "scale": {"domain": [0, 137], "range": [209, 161], "nice": false, "zero": false, "clamp": true}, "axis": null},
     "color": {"condition": {"test": "indexof(datum.bar,'lo|') == 0", "value": "#000"}, "value": "#7f7f7f"},
     "strokeWidth": {"condition": {"test": "indexof(datum.bar,'lo|') == 0", "value": 1.6}, "value": 1}}},
   {"data": {"name": "c_bars"}, "transform": [{"filter": "datum.mean < 137"}], "mark": {"type": "rule", "color": "#000", "strokeWidth": 1.3},
    "encoding": {"x": {"field": "bar", "type": "nominal", "scale": {"type": "band", "domain": ["hi|Baseline","s1","s2","hi|Wk 6","s3","s4","hi|Wk 12","s5","s6","s7","s8","lo|Baseline","s9","s10","lo|Wk 6","s11","s12","lo|Wk 12"], "paddingInner": 0, "paddingOuter": 1.68}, "axis": null},
     "y": {"field": "err_lo", "type": "quantitative", "scale": {"domain": [0, 137], "range": [209, 161], "nice": false, "zero": false, "clamp": true}, "axis": null}, "y2": {"field": "err_hi"}}},
   {"data": {"name": "c_bars"}, "transform": [{"filter": "datum.mean < 137"}], "mark": {"type": "tick", "color": "#000", "size": 15, "thickness": 1.3},
    "encoding": {"x": {"field": "bar", "type": "nominal", "scale": {"type": "band", "domain": ["hi|Baseline","s1","s2","hi|Wk 6","s3","s4","hi|Wk 12","s5","s6","s7","s8","lo|Baseline","s9","s10","lo|Wk 6","s11","s12","lo|Wk 12"], "paddingInner": 0, "paddingOuter": 1.68}, "axis": null},
     "y": {"field": "err_lo", "type": "quantitative", "scale": {"domain": [0, 137], "range": [209, 161], "nice": false, "zero": false, "clamp": true}, "axis": null}}},
   {"data": {"name": "c_bars"}, "transform": [{"filter": "datum.mean < 137"}], "mark": {"type": "tick", "color": "#000", "size": 15, "thickness": 1.3},
    "encoding": {"x": {"field": "bar", "type": "nominal", "scale": {"type": "band", "domain": ["hi|Baseline","s1","s2","hi|Wk 6","s3","s4","hi|Wk 12","s5","s6","s7","s8","lo|Baseline","s9","s10","lo|Wk 6","s11","s12","lo|Wk 12"], "paddingInner": 0, "paddingOuter": 1.68}, "axis": null},
     "y": {"field": "err_hi", "type": "quantitative", "scale": {"domain": [0, 137], "range": [209, 161], "nice": false, "zero": false, "clamp": true}, "axis": null}}},
   {"data": {"name": "c_bars"}, "mark": {"type": "text", "align": "center", "dy": -2, "baseline": "bottom", "fontSize": 9.5, "color": "#222"},
    "encoding": {"x": {"field": "bar", "type": "nominal", "bandPosition": 0.5, "scale": {"type": "band", "domain": ["hi|Baseline","s1","s2","hi|Wk 6","s3","s4","hi|Wk 12","s5","s6","s7","s8","lo|Baseline","s9","s10","lo|Wk 6","s11","s12","lo|Wk 12"], "paddingInner": 0, "paddingOuter": 1.68}, "axis": null},
     "y": {"datum": 0, "type": "quantitative", "scale": {"domain": [0, 137], "range": [209, 161], "nice": false, "zero": false, "clamp": true}, "axis": null},
     "text": {"field": "mean", "format": ".0f"}}},
   {"data": {"name": "c_pairs"}, "mark": {"type": "rule", "color": "#777", "strokeWidth": 1},
    "encoding": {"x": {"field": "from", "type": "nominal", "scale": {"type": "band", "domain": ["hi|Baseline","s1","s2","hi|Wk 6","s3","s4","hi|Wk 12","s5","s6","s7","s8","lo|Baseline","s9","s10","lo|Wk 6","s11","s12","lo|Wk 12"], "paddingInner": 0, "paddingOuter": 1.68}, "axis": null},
     "x2": {"field": "to"}, "y": {"field": "y", "type": "quantitative", "scale": {"domain": [130, 200], "range": [149, 0], "nice": false, "zero": false}, "axis": null}}},
   {"data": {"name": "c_pairs"}, "mark": {"type": "point", "shape": "M0,-1L0,1", "size": 30, "filled": false, "color": "#777", "strokeWidth": 1, "opacity": 1},
    "encoding": {"x": {"field": "from", "type": "nominal", "bandPosition": 0.5, "scale": {"type": "band", "domain": ["hi|Baseline","s1","s2","hi|Wk 6","s3","s4","hi|Wk 12","s5","s6","s7","s8","lo|Baseline","s9","s10","lo|Wk 6","s11","s12","lo|Wk 12"], "paddingInner": 0, "paddingOuter": 1.68}, "axis": null},
     "y": {"field": "y", "type": "quantitative", "scale": {"domain": [130, 200], "range": [149, 0], "nice": false, "zero": false}, "axis": null}}},
   {"data": {"name": "c_pairs"}, "mark": {"type": "point", "shape": "M0,-1L0,1", "size": 30, "filled": false, "color": "#777", "strokeWidth": 1, "opacity": 1},
    "encoding": {"x": {"field": "to", "type": "nominal", "bandPosition": 0.5, "scale": {"type": "band", "domain": ["hi|Baseline","s1","s2","hi|Wk 6","s3","s4","hi|Wk 12","s5","s6","s7","s8","lo|Baseline","s9","s10","lo|Wk 6","s11","s12","lo|Wk 12"], "paddingInner": 0, "paddingOuter": 1.68}, "axis": null},
     "y": {"field": "y", "type": "quantitative", "scale": {"domain": [130, 200], "range": [149, 0], "nice": false, "zero": false}, "axis": null}}},
   {"data": {"name": "c_pairs"}, "transform": [{"filter": "indexof(datum.from,'Baseline')>=0 && indexof(datum.to,'Wk 12')>=0"}],
    "mark": {"type": "text", "align": "center", "dy": -2, "baseline": "bottom", "fontSize": 9, "color": "#222"},
    "encoding": {"x": {"field": "grp", "type": "nominal", "bandPosition": 0.5, "scale": {"type": "band", "domain": ["hi","lo"], "paddingInner": 0.4545, "paddingOuter": 0.198}, "axis": null},
     "y": {"field": "y", "type": "quantitative", "scale": {"domain": [130, 200], "range": [149, 0], "nice": false, "zero": false}, "axis": null}, "text": {"field": "label"}}},
   {"data": {"name": "c_pairs"}, "transform": [{"filter": "!(indexof(datum.from,'Baseline')>=0 && indexof(datum.to,'Wk 12')>=0)"}],
    "mark": {"type": "text", "align": "center", "dx": 21, "dy": -2, "baseline": "bottom", "fontSize": 9, "color": "#222"},
    "encoding": {"x": {"field": "from", "type": "nominal", "bandPosition": 0.5, "scale": {"type": "band", "domain": ["hi|Baseline","s1","s2","hi|Wk 6","s3","s4","hi|Wk 12","s5","s6","s7","s8","lo|Baseline","s9","s10","lo|Wk 6","s11","s12","lo|Wk 12"], "paddingInner": 0, "paddingOuter": 1.68}, "axis": null},
     "y": {"field": "y", "type": "quantitative", "scale": {"domain": [130, 200], "range": [149, 0], "nice": false, "zero": false}, "axis": null}, "text": {"field": "label"}}},
   {"data": {"name": "c_groups"}, "mark": {"type": "rule", "color": "#777", "strokeWidth": 1},
    "encoding": {"x": {"field": "grp", "type": "nominal", "scale": {"type": "band", "domain": ["hi","lo"], "paddingInner": 0.4545, "paddingOuter": 0.198}, "axis": null},
     "y": {"field": "y", "type": "quantitative", "scale": {"domain": [130, 200], "range": [149, 0], "nice": false, "zero": false}, "axis": null}, "y2": {"field": "top"}}},
   {"data": {"name": "c_conn"}, "mark": {"type": "rule", "color": "#777", "strokeWidth": 1},
    "encoding": {"x": {"field": "from", "type": "nominal", "scale": {"type": "band", "domain": ["hi","lo"], "paddingInner": 0.4545, "paddingOuter": 0.198}, "axis": null},
     "x2": {"field": "to"}, "y": {"field": "y", "type": "quantitative", "scale": {"domain": [130, 200], "range": [149, 0], "nice": false, "zero": false}, "axis": null}}},
   {"data": {"name": "c_conn"}, "mark": {"type": "text", "align": "center", "dx": 68, "dy": -2, "baseline": "bottom", "fontSize": 9, "color": "#222"},
    "encoding": {"x": {"field": "from", "type": "nominal", "bandPosition": 0.5, "scale": {"type": "band", "domain": ["hi","lo"], "paddingInner": 0.4545, "paddingOuter": 0.198}, "axis": null},
     "y": {"field": "y", "type": "quantitative", "scale": {"domain": [130, 200], "range": [149, 0], "nice": false, "zero": false}, "axis": null}, "text": {"field": "label"}}}
  ]},
 {"width": 1, "height": 1, "data": {"values": []}, "mark": "point"},
 {"width": 316, "height": 210,
  "resolve": {"scale": {"x": "independent", "y": "independent"}},
  "layer": [
   {"data": {"name": "d_bars"}, "mark": {"type": "bar", "width": 29},
    "encoding": {
     "x": {"field": "bar", "type": "nominal", "scale": {"type": "band", "domain": ["hi|Baseline","s1","s2","hi|Wk 6","s3","s4","hi|Wk 12","s5","s6","s7","s8","lo|Baseline","s9","s10","lo|Wk 6","s11","s12","lo|Wk 12"], "range": [9, 316], "paddingInner": 0, "paddingOuter": 1.37, "align": 0.55}, "axis": null},
     "y": {"field": "mean", "type": "quantitative", "scale": {"domain": [115, 300], "range": [170, 11], "nice": false, "zero": false},
      "axis": {"orient": "left", "offset": -9, "values": [120,130,140,150,160,170,180,190,200,210,220,230,240,250,260,270,280,290,300],
       "labelExpr": "datum.value % 50 == 0 ? datum.label : ''",
       "tickSize": {"condition": {"test": "datum.value % 50 == 0", "value": 5}, "value": 2.5},
       "labelFontSize": 12.5, "labelOverlap": false, "labelFlush": false, "labelPadding": 1,
       "title": "Glucose (mg/dL) ± SEM", "titleFontSize": 12.5, "titleX": -40, "titleY": 103, "titleAlign": "center", "titleBaseline": "middle", "titleAngle": -90}},
     "y2": {"datum": 115},
     "fill": {"field": "group", "type": "nominal", "scale": {"domain": ["HbA1c ≥ 7.0  (N=19)", "HbA1c < 7.0  (N=21)"], "range": ["#d3d3d3", "#ffffff"]}, "legend": null}
    }},
   {"data": {"name": "d_bars"}, "mark": {"type": "rule", "xOffset": -14.5},
    "encoding": {"x": {"field": "bar", "type": "nominal", "scale": {"type": "band", "domain": ["hi|Baseline","s1","s2","hi|Wk 6","s3","s4","hi|Wk 12","s5","s6","s7","s8","lo|Baseline","s9","s10","lo|Wk 6","s11","s12","lo|Wk 12"], "range": [9, 316], "paddingInner": 0, "paddingOuter": 1.37, "align": 0.55}, "axis": null},
     "y": {"field": "mean", "type": "quantitative", "scale": {"domain": [115, 300], "range": [170, 11], "nice": false, "zero": false}, "axis": null},
     "y2": {"datum": 115},
     "color": {"condition": {"test": "indexof(datum.bar,'lo|') == 0", "value": "#000"}, "value": "#7f7f7f"},
     "strokeWidth": {"condition": {"test": "indexof(datum.bar,'lo|') == 0", "value": 1.6}, "value": 1}}},
   {"data": {"name": "d_bars"}, "mark": {"type": "rule", "xOffset": 14.5},
    "encoding": {"x": {"field": "bar", "type": "nominal", "scale": {"type": "band", "domain": ["hi|Baseline","s1","s2","hi|Wk 6","s3","s4","hi|Wk 12","s5","s6","s7","s8","lo|Baseline","s9","s10","lo|Wk 6","s11","s12","lo|Wk 12"], "range": [9, 316], "paddingInner": 0, "paddingOuter": 1.37, "align": 0.55}, "axis": null},
     "y": {"field": "mean", "type": "quantitative", "scale": {"domain": [115, 300], "range": [170, 11], "nice": false, "zero": false}, "axis": null},
     "y2": {"datum": 115},
     "color": {"condition": {"test": "indexof(datum.bar,'lo|') == 0", "value": "#000"}, "value": "#7f7f7f"},
     "strokeWidth": {"condition": {"test": "indexof(datum.bar,'lo|') == 0", "value": 1.6}, "value": 1}}},
   {"data": {"name": "d_bars"}, "mark": {"type": "rule", "xOffset": -14.5, "x2Offset": 14.5},
    "encoding": {"x": {"field": "bar", "type": "nominal", "scale": {"type": "band", "domain": ["hi|Baseline","s1","s2","hi|Wk 6","s3","s4","hi|Wk 12","s5","s6","s7","s8","lo|Baseline","s9","s10","lo|Wk 6","s11","s12","lo|Wk 12"], "range": [9, 316], "paddingInner": 0, "paddingOuter": 1.37, "align": 0.55}, "axis": null},
     "x2": {"field": "bar"},
     "y": {"field": "mean", "type": "quantitative", "scale": {"domain": [115, 300], "range": [170, 11], "nice": false, "zero": false}, "axis": null},
     "color": {"condition": {"test": "indexof(datum.bar,'lo|') == 0", "value": "#000"}, "value": "#7f7f7f"},
     "strokeWidth": {"condition": {"test": "indexof(datum.bar,'lo|') == 0", "value": 1.6}, "value": 1}}},
   {"data": {"name": "d_bars"}, "mark": {"type": "rule", "color": "#000", "strokeWidth": 1.3},
    "encoding": {"x": {"field": "bar", "type": "nominal", "scale": {"type": "band", "domain": ["hi|Baseline","s1","s2","hi|Wk 6","s3","s4","hi|Wk 12","s5","s6","s7","s8","lo|Baseline","s9","s10","lo|Wk 6","s11","s12","lo|Wk 12"], "range": [9, 316], "paddingInner": 0, "paddingOuter": 1.37, "align": 0.55}, "axis": null},
     "y": {"field": "err_lo", "type": "quantitative", "scale": {"domain": [115, 300], "range": [170, 11], "nice": false, "zero": false}, "axis": null}, "y2": {"field": "err_hi"}}},
   {"data": {"name": "d_bars"}, "mark": {"type": "tick", "color": "#000", "size": 21, "thickness": 1.3},
    "encoding": {"x": {"field": "bar", "type": "nominal", "scale": {"type": "band", "domain": ["hi|Baseline","s1","s2","hi|Wk 6","s3","s4","hi|Wk 12","s5","s6","s7","s8","lo|Baseline","s9","s10","lo|Wk 6","s11","s12","lo|Wk 12"], "range": [9, 316], "paddingInner": 0, "paddingOuter": 1.37, "align": 0.55}, "axis": null},
     "y": {"field": "err_lo", "type": "quantitative", "scale": {"domain": [115, 300], "range": [170, 11], "nice": false, "zero": false}, "axis": null}}},
   {"data": {"name": "d_bars"}, "mark": {"type": "tick", "color": "#000", "size": 21, "thickness": 1.3},
    "encoding": {"x": {"field": "bar", "type": "nominal", "scale": {"type": "band", "domain": ["hi|Baseline","s1","s2","hi|Wk 6","s3","s4","hi|Wk 12","s5","s6","s7","s8","lo|Baseline","s9","s10","lo|Wk 6","s11","s12","lo|Wk 12"], "range": [9, 316], "paddingInner": 0, "paddingOuter": 1.37, "align": 0.55}, "axis": null},
     "y": {"field": "err_hi", "type": "quantitative", "scale": {"domain": [115, 300], "range": [170, 11], "nice": false, "zero": false}, "axis": null}}},
   {"data": {"name": "d_bars"}, "mark": {"type": "bar", "width": 29},
    "encoding": {
     "x": {"field": "bar", "type": "nominal", "scale": {"type": "band", "domain": ["hi|Baseline","s1","s2","hi|Wk 6","s3","s4","hi|Wk 12","s5","s6","s7","s8","lo|Baseline","s9","s10","lo|Wk 6","s11","s12","lo|Wk 12"], "range": [9, 316], "paddingInner": 0, "paddingOuter": 1.37, "align": 0.55},
      "axis": {"values": ["hi|Baseline","hi|Wk 6","hi|Wk 12","lo|Baseline","lo|Wk 6","lo|Wk 12"], "labelExpr": "split(datum.label,'|')[1]", "labelAngle": 0, "labelFontSize": 12, "labelPadding": 2, "tickSize": 4, "title": null, "labelOverlap": false, "labelBound": false}},
     "y": {"field": "mean", "type": "quantitative", "scale": {"domain": [0, 80], "range": [210, 186], "nice": false, "zero": false, "clamp": true},
      "axis": {"orient": "left", "offset": -9, "values": [0,20,40,60,80], "labelFontSize": 6, "labelFontWeight": "bold", "tickSize": 3, "labelPadding": 1, "domainWidth": 2.5, "labelOverlap": false, "labelFlush": false, "title": null}},
     "y2": {"datum": 0},
     "fill": {"field": "group", "type": "nominal", "scale": {"domain": ["HbA1c ≥ 7.0  (N=19)", "HbA1c < 7.0  (N=21)"], "range": ["#d3d3d3", "#ffffff"]}, "legend": null}
    }},
   {"data": {"name": "d_bars"}, "mark": {"type": "rule", "xOffset": -14.5},
    "encoding": {"x": {"field": "bar", "type": "nominal", "scale": {"type": "band", "domain": ["hi|Baseline","s1","s2","hi|Wk 6","s3","s4","hi|Wk 12","s5","s6","s7","s8","lo|Baseline","s9","s10","lo|Wk 6","s11","s12","lo|Wk 12"], "range": [9, 316], "paddingInner": 0, "paddingOuter": 1.37, "align": 0.55}, "axis": null},
     "y": {"field": "mean", "type": "quantitative", "scale": {"domain": [0, 80], "range": [210, 186], "nice": false, "zero": false, "clamp": true}, "axis": null},
     "y2": {"datum": 0},
     "color": {"condition": {"test": "indexof(datum.bar,'lo|') == 0", "value": "#000"}, "value": "#7f7f7f"},
     "strokeWidth": {"condition": {"test": "indexof(datum.bar,'lo|') == 0", "value": 1.6}, "value": 1}}},
   {"data": {"name": "d_bars"}, "mark": {"type": "rule", "xOffset": 14.5},
    "encoding": {"x": {"field": "bar", "type": "nominal", "scale": {"type": "band", "domain": ["hi|Baseline","s1","s2","hi|Wk 6","s3","s4","hi|Wk 12","s5","s6","s7","s8","lo|Baseline","s9","s10","lo|Wk 6","s11","s12","lo|Wk 12"], "range": [9, 316], "paddingInner": 0, "paddingOuter": 1.37, "align": 0.55}, "axis": null},
     "y": {"field": "mean", "type": "quantitative", "scale": {"domain": [0, 80], "range": [210, 186], "nice": false, "zero": false, "clamp": true}, "axis": null},
     "y2": {"datum": 0},
     "color": {"condition": {"test": "indexof(datum.bar,'lo|') == 0", "value": "#000"}, "value": "#7f7f7f"},
     "strokeWidth": {"condition": {"test": "indexof(datum.bar,'lo|') == 0", "value": 1.6}, "value": 1}}},
   {"data": {"name": "d_bars"}, "mark": {"type": "text", "align": "center", "dy": -2, "baseline": "bottom", "fontSize": 10, "color": "#222"},
    "encoding": {"x": {"field": "bar", "type": "nominal", "bandPosition": 0.5, "scale": {"type": "band", "domain": ["hi|Baseline","s1","s2","hi|Wk 6","s3","s4","hi|Wk 12","s5","s6","s7","s8","lo|Baseline","s9","s10","lo|Wk 6","s11","s12","lo|Wk 12"], "range": [9, 316], "paddingInner": 0, "paddingOuter": 1.37, "align": 0.55}, "axis": null},
     "y": {"datum": 0, "type": "quantitative", "scale": {"domain": [0, 80], "range": [210, 186], "nice": false, "zero": false, "clamp": true}, "axis": null},
     "text": {"field": "mean", "format": ".0f"}}},
   {"data": {"name": "d_pairs"}, "mark": {"type": "rule", "color": "#777", "strokeWidth": 1},
    "encoding": {"x": {"field": "from", "type": "nominal", "scale": {"type": "band", "domain": ["hi|Baseline","s1","s2","hi|Wk 6","s3","s4","hi|Wk 12","s5","s6","s7","s8","lo|Baseline","s9","s10","lo|Wk 6","s11","s12","lo|Wk 12"], "range": [9, 316], "paddingInner": 0, "paddingOuter": 1.37, "align": 0.55}, "axis": null},
     "x2": {"field": "to"}, "y": {"field": "y", "type": "quantitative", "scale": {"domain": [115, 300], "range": [170, 11], "nice": false, "zero": false}, "axis": null}}},
   {"data": {"name": "d_pairs"}, "mark": {"type": "point", "shape": "M0,-1L0,1", "size": 30, "filled": false, "color": "#777", "strokeWidth": 1, "opacity": 1},
    "encoding": {"x": {"field": "from", "type": "nominal", "bandPosition": 0.5, "scale": {"type": "band", "domain": ["hi|Baseline","s1","s2","hi|Wk 6","s3","s4","hi|Wk 12","s5","s6","s7","s8","lo|Baseline","s9","s10","lo|Wk 6","s11","s12","lo|Wk 12"], "range": [9, 316], "paddingInner": 0, "paddingOuter": 1.37, "align": 0.55}, "axis": null},
     "y": {"field": "y", "type": "quantitative", "scale": {"domain": [115, 300], "range": [170, 11], "nice": false, "zero": false}, "axis": null}}},
   {"data": {"name": "d_pairs"}, "mark": {"type": "point", "shape": "M0,-1L0,1", "size": 30, "filled": false, "color": "#777", "strokeWidth": 1, "opacity": 1},
    "encoding": {"x": {"field": "to", "type": "nominal", "bandPosition": 0.5, "scale": {"type": "band", "domain": ["hi|Baseline","s1","s2","hi|Wk 6","s3","s4","hi|Wk 12","s5","s6","s7","s8","lo|Baseline","s9","s10","lo|Wk 6","s11","s12","lo|Wk 12"], "range": [9, 316], "paddingInner": 0, "paddingOuter": 1.37, "align": 0.55}, "axis": null},
     "y": {"field": "y", "type": "quantitative", "scale": {"domain": [115, 300], "range": [170, 11], "nice": false, "zero": false}, "axis": null}}},
   {"data": {"name": "d_pairs"}, "transform": [{"filter": "indexof(datum.from,'Baseline')>=0 && indexof(datum.to,'Wk 12')>=0"}],
    "mark": {"type": "text", "align": "center", "dy": -2, "baseline": "bottom", "fontSize": 9, "color": "#222"},
    "encoding": {"x": {"field": "grp", "type": "nominal", "bandPosition": 0.5, "scale": {"type": "band", "domain": ["hi","lo"], "range": [9, 316], "paddingInner": 0.4545, "paddingOuter": 0.17, "align": 0.536}, "axis": null},
     "y": {"field": "y", "type": "quantitative", "scale": {"domain": [115, 300], "range": [170, 11], "nice": false, "zero": false}, "axis": null}, "text": {"field": "label"}}},
   {"data": {"name": "d_pairs"}, "transform": [{"filter": "!(indexof(datum.from,'Baseline')>=0 && indexof(datum.to,'Wk 12')>=0)"}],
    "mark": {"type": "text", "align": "center", "dx": 22, "dy": -2, "baseline": "bottom", "fontSize": 9, "color": "#222"},
    "encoding": {"x": {"field": "from", "type": "nominal", "bandPosition": 0.5, "scale": {"type": "band", "domain": ["hi|Baseline","s1","s2","hi|Wk 6","s3","s4","hi|Wk 12","s5","s6","s7","s8","lo|Baseline","s9","s10","lo|Wk 6","s11","s12","lo|Wk 12"], "range": [9, 316], "paddingInner": 0, "paddingOuter": 1.37, "align": 0.55}, "axis": null},
     "y": {"field": "y", "type": "quantitative", "scale": {"domain": [115, 300], "range": [170, 11], "nice": false, "zero": false}, "axis": null}, "text": {"field": "label"}}},
   {"data": {"name": "d_groups"}, "mark": {"type": "rule", "color": "#777", "strokeWidth": 1},
    "encoding": {"x": {"field": "grp", "type": "nominal", "scale": {"type": "band", "domain": ["hi","lo"], "range": [9, 316], "paddingInner": 0.4545, "paddingOuter": 0.17, "align": 0.536}, "axis": null},
     "y": {"field": "y", "type": "quantitative", "scale": {"domain": [115, 300], "range": [170, 11], "nice": false, "zero": false}, "axis": null}, "y2": {"field": "top"}}},
   {"data": {"name": "d_conn"}, "mark": {"type": "rule", "color": "#777", "strokeWidth": 1},
    "encoding": {"x": {"field": "from", "type": "nominal", "scale": {"type": "band", "domain": ["hi","lo"], "range": [9, 316], "paddingInner": 0.4545, "paddingOuter": 0.17, "align": 0.536}, "axis": null},
     "x2": {"field": "to"}, "y": {"field": "y", "type": "quantitative", "scale": {"domain": [115, 300], "range": [170, 11], "nice": false, "zero": false}, "axis": null}}},
   {"data": {"name": "d_conn"}, "mark": {"type": "text", "align": "center", "dx": 65, "dy": -2, "baseline": "bottom", "fontSize": 9, "color": "#222"},
    "encoding": {"x": {"field": "from", "type": "nominal", "bandPosition": 0.5, "scale": {"type": "band", "domain": ["hi","lo"], "range": [9, 316], "paddingInner": 0.4545, "paddingOuter": 0.17, "align": 0.536}, "axis": null},
     "y": {"field": "y", "type": "quantitative", "scale": {"domain": [115, 300], "range": [170, 11], "nice": false, "zero": false}, "axis": null}, "text": {"field": "label"}}}
  ]}
],
"config": {
 "view": {"stroke": null},
 "font": "Liberation Sans",
 "axis": {"domainColor": "#000", "tickColor": "#000", "labelColor": "#000", "titleColor": "#000", "titleFontWeight": "normal", "grid": false, "labelFont": "Liberation Sans", "titleFont": "Liberation Sans", "domainWidth": 1, "tickWidth": 1},
 "legend": {"labelFont": "Liberation Sans"},
 "text": {"font": "Liberation Sans"},
 "title": {"font": "Liberation Sans"}
}
}
